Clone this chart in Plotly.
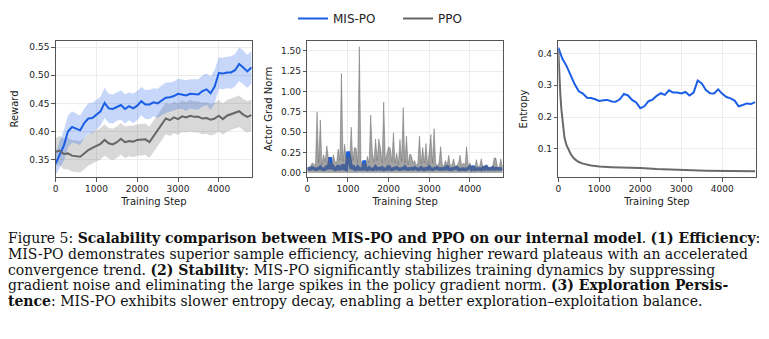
import plotly.graph_objects as go

# ---------------- data ----------------
reward_steps = list(range(0, 4801, 100))
reward_mis = [0.343, 0.360, 0.375, 0.400, 0.408, 0.405, 0.402, 0.415, 0.423, 0.424,
              0.430, 0.436, 0.451, 0.441, 0.440, 0.444, 0.447, 0.440, 0.445, 0.441,
              0.446, 0.454, 0.448, 0.448, 0.452, 0.450, 0.455, 0.460, 0.461, 0.463,
              0.467, 0.466, 0.464, 0.467, 0.466, 0.466, 0.472, 0.475, 0.468, 0.480,
              0.504, 0.503, 0.505, 0.505, 0.509, 0.520, 0.514, 0.507, 0.514]
reward_mis_std = [0.020, 0.024, 0.027, 0.028, 0.028, 0.027, 0.026, 0.026, 0.027, 0.027,
                  0.026, 0.026, 0.027, 0.026, 0.026, 0.025, 0.026, 0.026, 0.025, 0.026,
                  0.026, 0.025, 0.026, 0.026, 0.025, 0.026, 0.026, 0.027, 0.026, 0.026,
                  0.027, 0.026, 0.027, 0.026, 0.027, 0.027, 0.028, 0.028, 0.030, 0.030,
                  0.028, 0.028, 0.028, 0.029, 0.029, 0.030, 0.030, 0.029, 0.029]
reward_ppo = [0.364, 0.366, 0.360, 0.361, 0.357, 0.356, 0.355, 0.361, 0.367, 0.371,
              0.375, 0.378, 0.385, 0.379, 0.377, 0.381, 0.387, 0.381, 0.383, 0.382,
              0.385, 0.385, 0.386, 0.381, 0.392, 0.402, 0.414, 0.423, 0.420, 0.425,
              0.422, 0.427, 0.425, 0.428, 0.426, 0.426, 0.423, 0.424, 0.421, 0.423,
              0.428, 0.422, 0.428, 0.431, 0.433, 0.436, 0.430, 0.426, 0.429]
reward_ppo_std = [0.024, 0.026, 0.027, 0.028, 0.028, 0.028, 0.028, 0.028, 0.028, 0.028,
                  0.028, 0.028, 0.028, 0.027, 0.028, 0.028, 0.028, 0.028, 0.027, 0.028,
                  0.028, 0.028, 0.028, 0.028, 0.028, 0.028, 0.028, 0.028, 0.028, 0.028,
                  0.028, 0.028, 0.027, 0.028, 0.028, 0.028, 0.028, 0.028, 0.028, 0.028,
                  0.028, 0.028, 0.028, 0.028, 0.028, 0.028, 0.028, 0.028, 0.028]

grad_steps = list(range(0, 4801, 40))
grad_ppo = [0.06, 0.07, 0.08, 0.12, 0.10, 0.09, 0.75, 0.12, 0.65, 0.10,
            0.22, 0.14, 0.33, 0.18, 0.12, 0.10, 0.22, 0.14, 0.12, 0.29,
            0.15, 1.22, 0.14, 0.35, 0.16, 0.20, 0.12, 0.56, 0.15, 0.31,
            0.30, 0.12, 1.55, 0.15, 0.10, 0.12, 0.09, 0.20, 0.12, 0.71,
            0.25, 0.13, 0.415, 0.15, 0.415, 0.30, 0.12, 0.87, 0.15, 0.23,
            0.32, 0.30, 0.14, 0.49, 0.12, 0.24, 0.10, 0.41, 0.14, 0.80,
            0.12, 0.45, 0.10, 0.23, 0.21, 0.12, 0.15, 0.09, 0.12, 0.45,
            0.11, 0.31, 0.12, 0.36, 0.10, 0.25, 0.47, 0.12, 0.54, 0.11,
            0.09, 0.12, 0.32, 0.10, 0.08, 0.15, 0.09, 0.215, 0.08, 0.10,
            0.17, 0.08, 0.09, 0.12, 0.215, 0.08, 0.12, 0.09, 0.32, 0.08,
            0.12, 0.07, 0.08, 0.06, 0.16, 0.07, 0.08, 0.17, 0.06, 0.08,
            0.10, 0.06, 0.07, 0.06, 0.08, 0.18, 0.18, 0.07, 0.06, 0.17,
            0.07]
grad_mis = [0.045, 0.040, 0.045, 0.060, 0.045, 0.040, 0.045, 0.050, 0.070, 0.045,
            0.040, 0.045, 0.080, 0.045, 0.190, 0.045, 0.070, 0.040, 0.045, 0.090,
            0.045, 0.050, 0.100, 0.045, 0.040, 0.260, 0.200, 0.045, 0.090, 0.045,
            0.040, 0.070, 0.045, 0.050, 0.045, 0.150, 0.045, 0.040, 0.060, 0.045,
            0.045, 0.040, 0.070, 0.045, 0.050, 0.045, 0.060, 0.040, 0.045, 0.045,
            0.080, 0.045, 0.040, 0.045, 0.050, 0.060, 0.045, 0.040, 0.045, 0.050,
            0.070, 0.045, 0.040, 0.045, 0.050, 0.045, 0.060, 0.045, 0.040, 0.045,
            0.060, 0.045, 0.040, 0.050, 0.045, 0.070, 0.045, 0.040, 0.045, 0.050,
            0.060, 0.045, 0.040, 0.045, 0.050, 0.045, 0.080, 0.045, 0.040, 0.045,
            0.050, 0.045, 0.060, 0.040, 0.045, 0.050, 0.045, 0.040, 0.045, 0.050,
            0.070, 0.045, 0.080, 0.040, 0.045, 0.050, 0.045, 0.040, 0.060, 0.045,
            0.080, 0.045, 0.040, 0.045, 0.060, 0.045, 0.050, 0.045, 0.040, 0.045,
            0.045]

ent_steps = list(range(0, 4801, 100))
ent_mis = [0.418, 0.383, 0.361, 0.329, 0.303, 0.281, 0.274, 0.261, 0.260, 0.256,
           0.251, 0.253, 0.254, 0.249, 0.248, 0.256, 0.273, 0.268, 0.254, 0.246,
           0.228, 0.234, 0.250, 0.255, 0.267, 0.275, 0.270, 0.284, 0.277, 0.277,
           0.274, 0.279, 0.268, 0.277, 0.315, 0.306, 0.285, 0.275, 0.274, 0.287,
           0.273, 0.263, 0.259, 0.252, 0.234, 0.238, 0.243, 0.241, 0.247]
ent_ppo_steps = [0, 25, 50, 75, 100, 150, 200, 250, 300, 350, 400, 500, 600,
                 800, 1000, 1300, 1600, 2000, 2400, 3000, 3600, 4200, 4800]
ent_ppo = [0.410, 0.317, 0.270, 0.225, 0.187, 0.136, 0.112, 0.096, 0.085, 0.075, 0.068, 0.059, 0.054,
           0.048, 0.045, 0.043, 0.042, 0.040, 0.037, 0.034, 0.032, 0.031, 0.030]

x_ticks = [0, 1000, 2000, 3000, 4000]
names = ["MIS-PO", "PPO"]

# ---------------- style ----------------
BLUE = "#1a5ee6"
GRAY = "#666666"
W, H = 769, 339

fig = go.Figure()

def band(xs, m, s, color, xa, ya):
    up = [a + b for a, b in zip(m, s)]
    lo = [a - b for a, b in zip(m, s)]
    fig.add_trace(go.Scatter(x=xs, y=up, mode="lines", line=dict(width=0), hoverinfo="skip",
                             showlegend=False, xaxis=xa, yaxis=ya))
    fig.add_trace(go.Scatter(x=xs, y=lo, mode="lines", line=dict(width=0), fill="tonexty",
                             fillcolor=color, hoverinfo="skip", showlegend=False, xaxis=xa, yaxis=ya))

# Panel 1: reward
band(reward_steps, reward_ppo, reward_ppo_std, "rgba(100,100,100,0.25)", "x", "y")
band(reward_steps, reward_mis, reward_mis_std, "rgba(26,94,230,0.25)", "x", "y")
fig.add_trace(go.Scatter(x=reward_steps, y=reward_mis, mode="lines", name=names[0],
                         line=dict(color=BLUE, width=2), xaxis="x", yaxis="y"))
fig.add_trace(go.Scatter(x=reward_steps, y=reward_ppo, mode="lines", name=names[1],
                         line=dict(color=GRAY, width=2), xaxis="x", yaxis="y"))

# Panel 2: grad norm
fig.add_trace(go.Scatter(x=grad_steps, y=grad_mis, mode="lines", showlegend=False,
                         line=dict(color=BLUE, width=3.5), xaxis="x2", yaxis="y2"))
fig.add_trace(go.Scatter(x=grad_steps, y=grad_ppo, mode="lines", showlegend=False,
                         line=dict(color="rgba(102,102,102,0.45)", width=1), fill="tozeroy",
                         fillcolor="rgba(102,102,102,0.6)", xaxis="x2", yaxis="y2"))

# Panel 3: entropy
fig.add_trace(go.Scatter(x=ent_steps, y=ent_mis, mode="lines", showlegend=False,
                         line=dict(color=BLUE, width=2), xaxis="x3", yaxis="y3"))
fig.add_trace(go.Scatter(x=ent_ppo_steps, y=ent_ppo, mode="lines", showlegend=False,
                         line=dict(color="#6a6a6a", width=2), xaxis="x3", yaxis="y3"))

tickfont = dict(family="DejaVu Sans", size=9, color="#222222")
titlefont = dict(family="DejaVu Sans", size=10, color="#222222")
common = dict(showline=True, mirror=True, linecolor="#555555", linewidth=1,
              ticks="outside", ticklen=3.5, tickwidth=1, tickcolor="#555555",
              showgrid=True, gridcolor="#ececec", gridwidth=0.8, zeroline=False,
              tickfont=tickfont, automargin=False)

ydom = [1 - 177 / H, 1 - 41 / H]
xd1 = [55.7 / W, 252 / W]
xd2 = [307.3 / W, 503 / W]
xd3 = [558.3 / W, 755.7 / W]

def xax(dom, anchor):
    return dict(domain=dom, anchor=anchor, range=[0, 4815], tickvals=x_ticks,
                title=dict(text="Training Step", font=titlefont, standoff=4), **common)

fig.update_layout(
    width=W, height=H, margin=dict(l=0, r=0, t=0, b=0),
    paper_bgcolor="white", plot_bgcolor="white",
    xaxis=xax(xd1, "y"), xaxis2=xax(xd2, "y2"), xaxis3=xax(xd3, "y3"),
    yaxis=dict(domain=ydom, anchor="x", range=[0.319, 0.561],
               tickvals=[0.35, 0.40, 0.45, 0.50, 0.55], tickformat=".2f",
               title=dict(text="Reward", font=titlefont, standoff=8), **common),
    yaxis2=dict(domain=ydom, anchor="x2", range=[-0.053, 1.62],
                tickvals=[0, 0.25, 0.5, 0.75, 1.0, 1.25, 1.5], tickformat=".2f",
                title=dict(text="Actor Grad Norm", font=titlefont, standoff=6), **common),
    yaxis3=dict(domain=ydom, anchor="x3", range=[0.012, 0.439],
                tickvals=[0.1, 0.2, 0.3, 0.4], tickformat=".1f",
                title=dict(text="Entropy", font=titlefont, standoff=8), **common),
    legend=dict(orientation="h", x=293 / W, xanchor="left", y=1 - 4 / H, yanchor="top",
                font=dict(family="DejaVu Sans", size=12, color="#222222"),
                bgcolor="rgba(0,0,0,0)", itemwidth=30, traceorder="normal",
                entrywidth=60, entrywidthmode="pixels"),
    showlegend=True,
)

caption_lines = [
    "Figure 5: <b>Scalability comparison between MIS-PO and PPO on our internal model</b>. <b>(1) Efficiency</b>:",
    "MIS-PO demonstrates superior sample efficiency, achieving higher reward plateaus with an accelerated",
    "convergence trend. <b>(2) Stability</b>: MIS-PO significantly stabilizes training dynamics by suppressing",
    "gradient noise and eliminating the large spikes in the policy gradient norm. <b>(3) Exploration Persis-</b>",
    "<b>tence</b>: MIS-PO exhibits slower entropy decay, enabling a better exploration\u2013exploitation balance.",
]
caption_y = [238.3, 254.0, 269.5, 285.0, 300.7]
for txt, yp in zip(caption_lines, caption_y):
    fig.add_annotation(text=txt, xref="paper", yref="paper", x=6 / W, y=1 - yp / H,
                       xanchor="left", yanchor="middle", showarrow=False,
                       font=dict(family="DejaVu Serif", size=14, color="#111111"))

fig.write_html("out.html")
